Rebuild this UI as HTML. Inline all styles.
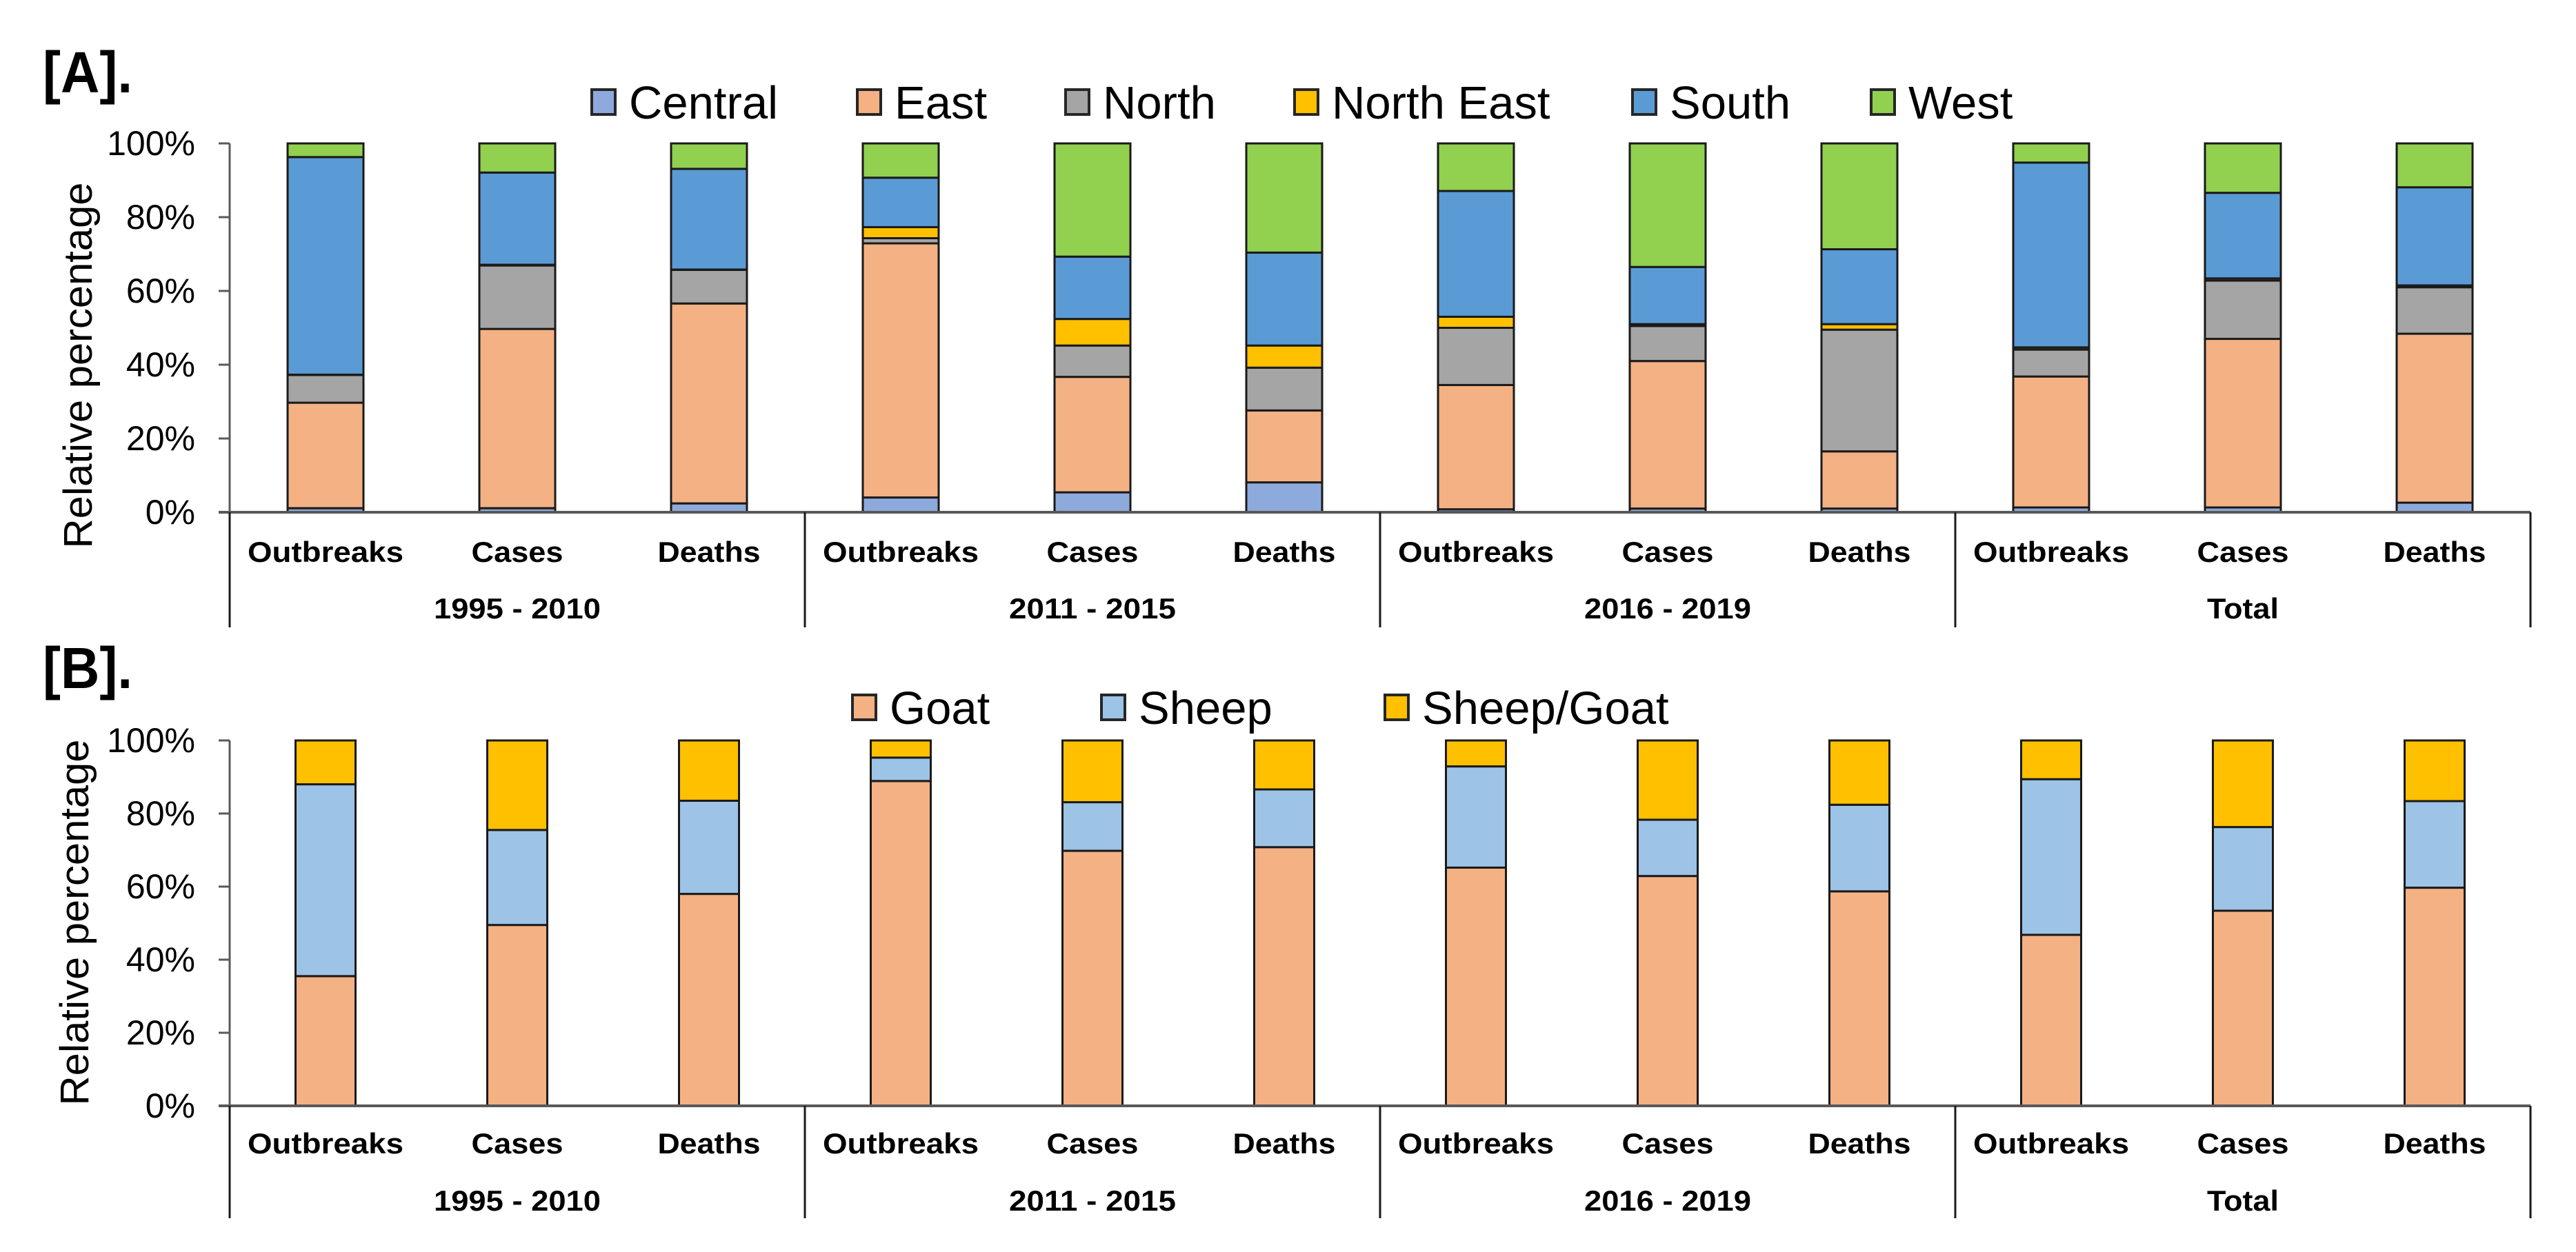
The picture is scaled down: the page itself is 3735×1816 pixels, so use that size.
<!DOCTYPE html>
<html><head><meta charset="utf-8"><style>
html,body{margin:0;padding:0;background:#fff}
svg{display:block}
text{font-family:"Liberation Sans",Arial,sans-serif;fill:#000}
</style></head><body>
<svg id="chart" width="3735" height="1816" viewBox="0 0 3735 1816" xmlns="http://www.w3.org/2000/svg"></svg>
<script>
const categories = ["Outbreaks","Cases","Deaths","Outbreaks","Cases","Deaths","Outbreaks","Cases","Deaths","Outbreaks","Cases","Deaths"];
const groups = ["1995 - 2010","2011 - 2015","2016 - 2019","Total"];
const yTicks = [0,20,40,60,80,100];
const tickLabels = ["0%","20%","40%","60%","80%","100%"];
// Panel A region series (percent)
const regionNames = ["Central","East","North","North East","South","West"];
const central = [1.1,1.1,2.4,4.0,5.4,8.1,0.8,1.0,1.0,1.3,1.3,2.6];
const east    = [28.6,48.6,54.2,68.9,31.3,19.5,33.7,40.0,15.5,35.5,45.7,45.8];
const north   = [7.5,17.2,9.1,1.4,8.5,11.6,15.5,9.5,33.0,7.3,15.8,12.6];
const northEast=[0.1,0.2,0.1,3.0,7.2,6.0,3.0,0.5,1.5,0.6,0.6,0.5];
const south   = [59.0,25.0,27.3,13.4,16.9,25.2,34.1,15.5,20.3,50.1,23.2,26.6];
const west    = [3.7,7.9,6.9,9.3,30.7,29.6,12.9,33.5,28.7,5.2,13.4,11.9];
// Panel B species series (percent)
const speciesNames = ["Goat","Sheep","Sheep/Goat"];
const goat  = [35.5,49.5,58.0,88.9,69.8,70.8,65.2,62.9,58.7,46.8,53.4,59.7];
const sheep = [52.5,26.0,25.5,6.4,13.3,15.8,27.7,15.4,23.7,42.6,22.9,23.7];
const sheepGoat = [12.0,24.5,16.5,4.7,16.9,13.4,7.1,21.7,17.6,10.6,23.7,16.6];

const NS="http://www.w3.org/2000/svg";
const svg=document.getElementById('chart');
function mk(tag,attrs,parent){const e=document.createElementNS(NS,tag);for(const k in attrs)e.setAttribute(k,attrs[k]);(parent||svg).appendChild(e);return e;}
function txt(s,attrs,parent){const e=mk('text',attrs,parent);e.textContent=s;return e;}

const X0=333, STEP=278, X1=X0+STEP*12;
function xCenter(i){return X0+STEP/2+STEP*i;}
const textLen={"Outbreaks":226,"Cases":133,"Deaths":149,"1995 - 2010":242,"2011 - 2015":242,"2016 - 2019":242,"Total":104};

function panel(cfg){
  const g=mk('g',{});
  
  
  const yS=v=>cfg.y0-(cfg.y0-cfg.y100)*v/100;
  // panel label
  const pl=txt(cfg.label,{x:62,y:cfg.labelY,'font-size':84,'font-weight':'bold',textLength:130,lengthAdjust:'spacingAndGlyphs'},g);
  
  
  // y title
  const yt=txt("Relative percentage",{x:0,y:0,'font-size':58,'text-anchor':'middle',textLength:531,lengthAdjust:'spacingAndGlyphs',transform:`translate(${cfg.titleX},${cfg.titleY}) rotate(-90)`},g);
  
  
  // ticks
  yTicks.forEach((t,i)=>{
    const y=yS(t);
    const tl=mk('line',{x1:317,x2:X0,y1:y,y2:y,stroke:'#595959','stroke-width':3},g);
    
    
    const lb=txt(tickLabels[i],{x:283,y:y+17,'font-size':50,'text-anchor':'end'},g);
    
    
  });
  // bars
  categories.forEach((c,i)=>{
    let acc=0;
    cfg.series.forEach((s,k)=>{
      const v=s[i];
      const yTop=yS(acc+v), yBot=yS(acc);
      const r=mk('rect',{x:xCenter(i)-cfg.bw/2,y:yTop,width:cfg.bw,height:Math.max(0,yBot-yTop),fill:cfg.colors[k],stroke:'#1a1a1a','stroke-width':3},g);
      
      
      acc+=v;
    });
    const cl=txt(c,{x:xCenter(i),y:cfg.catY,'font-size':42,'font-weight':'bold','text-anchor':'middle',textLength:textLen[c],lengthAdjust:'spacingAndGlyphs'},g);
    
    
  });
  // axes
  const ya=mk('line',{x1:X0,x2:X0,y1:cfg.y100,y2:cfg.y0,stroke:'#595959','stroke-width':3},g);
  
  
  const xa=mk('line',{x1:317,x2:X1,y1:cfg.y0,y2:cfg.y0,stroke:'#595959','stroke-width':4},g);
  
  
  for(let k=0;k<=4;k++){
    const x=X0+STEP*3*k;
    const d=mk('line',{x1:x,x2:x,y1:cfg.y0,y2:cfg.divBot,stroke:'#1a1a1a','stroke-width':3},g);
    
    
  }
  groups.forEach((gn,k)=>{
    const gl=txt(gn,{x:X0+STEP*1.5+STEP*3*k,y:cfg.grpY,'font-size':42,'font-weight':'bold','text-anchor':'middle',textLength:textLen[gn],lengthAdjust:'spacingAndGlyphs'},g);
    
    
  });
  // legend
  const lg=mk('g',{},g);
  
  
  cfg.names.forEach((n,k)=>{
    const e=mk('g',{},lg);
    
    
    mk('rect',{x:cfg.legX[k],y:cfg.legY-38,width:34,height:36,fill:cfg.colors[k],stroke:'#262626','stroke-width':4},e);
    txt(n,{x:cfg.legX[k]+54,y:cfg.legY+4,'font-size':67},e);
  });
}

panel({name:'panel-a-regions',label:'[A].',labelY:134,titleX:133,titleY:530,y0:743,y100:208,bw:110,
  catY:815,grpY:897,divBot:910,
  series:[central,east,north,northEast,south,west],names:regionNames,
  keys:['central','east','north','north-east','south','west'],
  colors:['#8EA9DB','#F4B183','#A5A5A5','#FFC000','#5B9BD5','#92D050'],
  legX:[858,1243,1545,1877,2367,2713],legY:168});
panel({name:'panel-b-species',label:'[B].',labelY:998,titleX:128,titleY:1338,y0:1604,y100:1074,bw:87,
  catY:1673,grpY:1756,divBot:1767,
  series:[goat,sheep,sheepGoat],names:speciesNames,
  keys:['goat','sheep','sheep-goat'],
  colors:['#F4B183','#9DC3E6','#FFC000'],
  legX:[1236,1597,2008],legY:1046});
</script>
</body></html>
